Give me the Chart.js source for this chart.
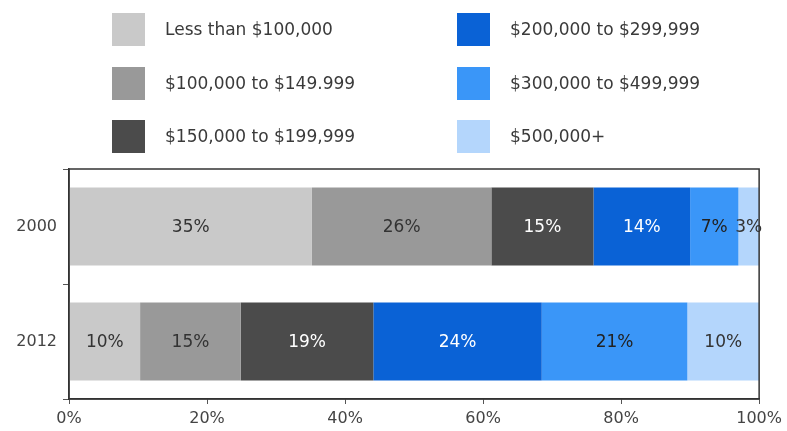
<!DOCTYPE html>
<html><head><meta charset="utf-8">
<script src="https://cdn.jsdelivr.net/npm/chart.js@4.4.1/dist/chart.umd.min.js"></script>
<style>
html,body{margin:0;padding:0;background:#fff;}
#wrap{position:relative;width:787px;height:431px;}
#legend{position:absolute;left:0;top:0;width:787px;height:160px;font-family:"DejaVu Sans",Verdana,sans-serif;font-size:17px;color:#3a3a3a;}
.li{position:absolute;height:33px;}
.li .box{position:absolute;left:0;top:0;width:33px;height:33px;}
.li .txt{position:absolute;left:53px;top:6px;white-space:nowrap;}
</style></head>
<body><div id="wrap"><canvas id="c" width="787" height="431"></canvas><div id="legend"></div></div>
<script>
const categories = ["2000", "2012"];
const seriesNames = ["Less than $100,000", "$100,000 to $149.999", "$150,000 to $199,999", "$200,000 to $299,999", "$300,000 to $499,999", "$500,000+"];
const lessThan100k = [35.2, 10.3];
const from100kTo150k = [26.0, 14.6];
const from150kTo200k = [14.8, 19.2];
const from200kTo300k = [14.0, 24.4];
const from300kTo500k = [7.0, 21.1];
const over500k = [3.0, 10.4];
const xTickLabels = ["0%", "20%", "40%", "60%", "80%", "100%"];

const seriesValues = [lessThan100k, from100kTo150k, from150kTo200k, from200kTo300k, from300kTo500k, over500k];
const colors = ["#c9c9c9", "#999999", "#4b4b4b", "#0a62d6", "#3a96f8", "#b4d6fc"];
const labelColors = ["#333", "#333", "#fff", "#fff", "#222", "#333"];

// HTML legend (column-major, 2 columns x 3 rows)
const legend = document.getElementById('legend');
const colX = [112, 457], rowY = [13, 67, 120];
seriesNames.forEach((n, i) => {
  const d = document.createElement('div');
  d.className = 'li';
  d.style.left = colX[Math.floor(i / 3)] + 'px';
  d.style.top = rowY[i % 3] + 'px';
  d.innerHTML = '<div class="box" style="background:' + colors[i] + '"></div><div class="txt"></div>';
  d.querySelector('.txt').textContent = n;
  legend.appendChild(d);
});

const frame = {
  id: 'frame',
  afterDatasetsDraw(chart) {
    const a = chart.chartArea, ctx = chart.ctx;
    ctx.save();
    ctx.strokeStyle = '#333';
    ctx.lineWidth = 1.5;
    ctx.strokeRect(a.left, a.top, a.right - a.left, a.bottom - a.top);
    ctx.restore();
  }
};
const barLabels = {
  id: 'barLabels',
  afterDraw(chart) {
    const ctx = chart.ctx;
    ctx.save();
    ctx.font = '17px "DejaVu Sans", Verdana, sans-serif';
    ctx.textAlign = 'center';
    ctx.textBaseline = 'middle';
    chart.data.datasets.forEach((ds, di) => {
      const meta = chart.getDatasetMeta(di);
      meta.data.forEach((el, i) => {
        const p = el.getProps(['x', 'y', 'base'], true);
        const cx = (p.x + p.base) / 2;
        ctx.fillStyle = labelColors[di];
        ctx.fillText(Math.round(ds.data[i]) + '%', cx, p.y + 1);
      });
    });
    ctx.restore();
  }
};

new Chart(document.getElementById('c'), {
  type: 'bar',
  data: {
    labels: categories,
    datasets: seriesNames.map((n, i) => ({
      label: n, data: seriesValues[i], backgroundColor: colors[i], borderWidth: 0,
      barPercentage: 0.68, categoryPercentage: 1.0
    }))
  },
  options: {
    indexAxis: 'y',
    responsive: false,
    animation: false,
    layout: { padding: { top: 169, right: 27, left: 0, bottom: 0 } },
    plugins: { legend: { display: false }, tooltip: { enabled: false } },
    scales: {
      x: {
        stacked: true, min: 0, max: 100,
        ticks: { stepSize: 20, color: '#444', font: { family: '"DejaVu Sans", Verdana, sans-serif', size: 16 },
          padding: 5, callback: (v, i) => xTickLabels[i] },
        grid: { drawOnChartArea: false, tickLength: 5, color: '#555' },
        border: { color: '#333', width: 1.5 },
        afterFit(s) { s.height = 32; }
      },
      y: {
        stacked: true,
        ticks: { color: '#444', font: { family: '"DejaVu Sans", Verdana, sans-serif', size: 16 }, padding: 6 },
        grid: { drawOnChartArea: false, tickLength: 6, color: '#555', offset: true },
        border: { color: '#333', width: 1.5 },
        afterFit(s) { s.width = 69; }
      }
    }
  },
  plugins: [frame, barLabels]
});
</script></body></html>
